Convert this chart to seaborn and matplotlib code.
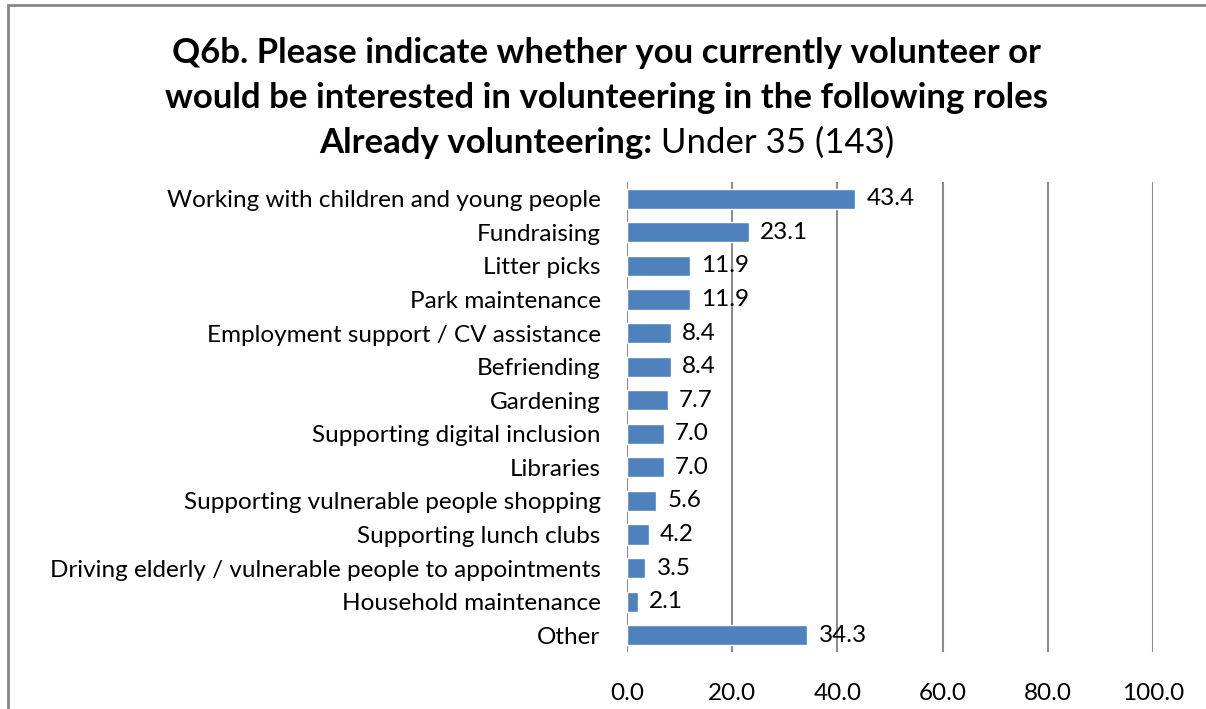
import matplotlib
matplotlib.use("Agg")
import matplotlib.pyplot as plt
import seaborn as sns
import pandas as pd

roles = [
    "Working with children and young people",
    "Fundraising",
    "Litter picks",
    "Park maintenance",
    "Employment support / CV assistance",
    "Befriending",
    "Gardening",
    "Supporting digital inclusion",
    "Libraries",
    "Supporting vulnerable people shopping",
    "Supporting lunch clubs",
    "Driving elderly / vulnerable people to appointments",
    "Household maintenance",
    "Other",
]
pct = [43.4, 23.1, 11.9, 11.9, 8.4, 8.4, 7.7, 7.0, 7.0, 5.6, 4.2, 3.5, 2.1, 34.3]
xticks = [0, 20, 40, 60, 80, 100]

df = pd.DataFrame({"role": roles, "pct": pct})

sns.set_style("white")
plt.rcParams["font.family"] = ["Lato", "DejaVu Sans"]
plt.rcParams["text.color"] = "black"
plt.rcParams["xtick.color"] = "black"
plt.rcParams["ytick.color"] = "black"

fig = plt.figure(figsize=(12.06, 7.09), dpi=100)
ax = fig.add_axes([0.5199, 0.0804, 0.4362, 0.6629])

sns.barplot(data=df, x="pct", y="role", order=roles, color="#4F81BD",
            saturation=1, width=0.6, ax=ax, orient="h")

ax.set_xlim(0, 100)
ax.set_ylim(len(roles) - 0.5, -0.5)
ax.set_xticks(xticks)
ax.set_xticklabels([f"{v:.1f}" for v in xticks], fontsize=17.5)
ax.tick_params(axis="y", labelsize=17.5, length=0, pad=19)
ax.tick_params(axis="x", length=0, pad=22)
ax.xaxis.grid(True, color="#8C8C8C", linewidth=1.5)
ax.set_axisbelow(True)
for s in ax.spines.values():
    s.set_visible(False)
ax.set_xlabel("")
ax.set_ylabel("")

ax.bar_label(ax.containers[0], labels=[f"{v:.1f}" for v in pct],
             padding=8, fontsize=17.5, color="black")

# title
fig.text(0.503, 0.925, "Q6b. Please indicate whether you currently volunteer or",
         ha="center", va="center", fontsize=25, fontweight="bold")
fig.text(0.503, 0.862, "would be interested in volunteering in the following roles",
         ha="center", va="center", fontsize=25, fontweight="bold")
t1 = fig.text(0, 0.799, "Already volunteering:", ha="left", va="center",
              fontsize=25, fontweight="bold")
t2 = fig.text(0, 0.799, " Under 35 (143)", ha="left", va="center", fontsize=25)
fig.canvas.draw()
r = fig.canvas.get_renderer()
w1 = t1.get_window_extent(r).width / fig.bbox.width
w2 = t2.get_window_extent(r).width / fig.bbox.width
x0 = 0.503 - (w1 + w2) / 2
t1.set_x(x0)
t2.set_x(x0 + w1)

# chart area border (cropped at right/bottom)
border = plt.Rectangle((8 / 1206, -0.1), 1.2, 1.1 - 5 / 709,
                       transform=fig.transFigure, fill=False,
                       edgecolor="#868686", linewidth=2)
fig.patches.append(border)

fig.savefig("out.png", dpi=100)
